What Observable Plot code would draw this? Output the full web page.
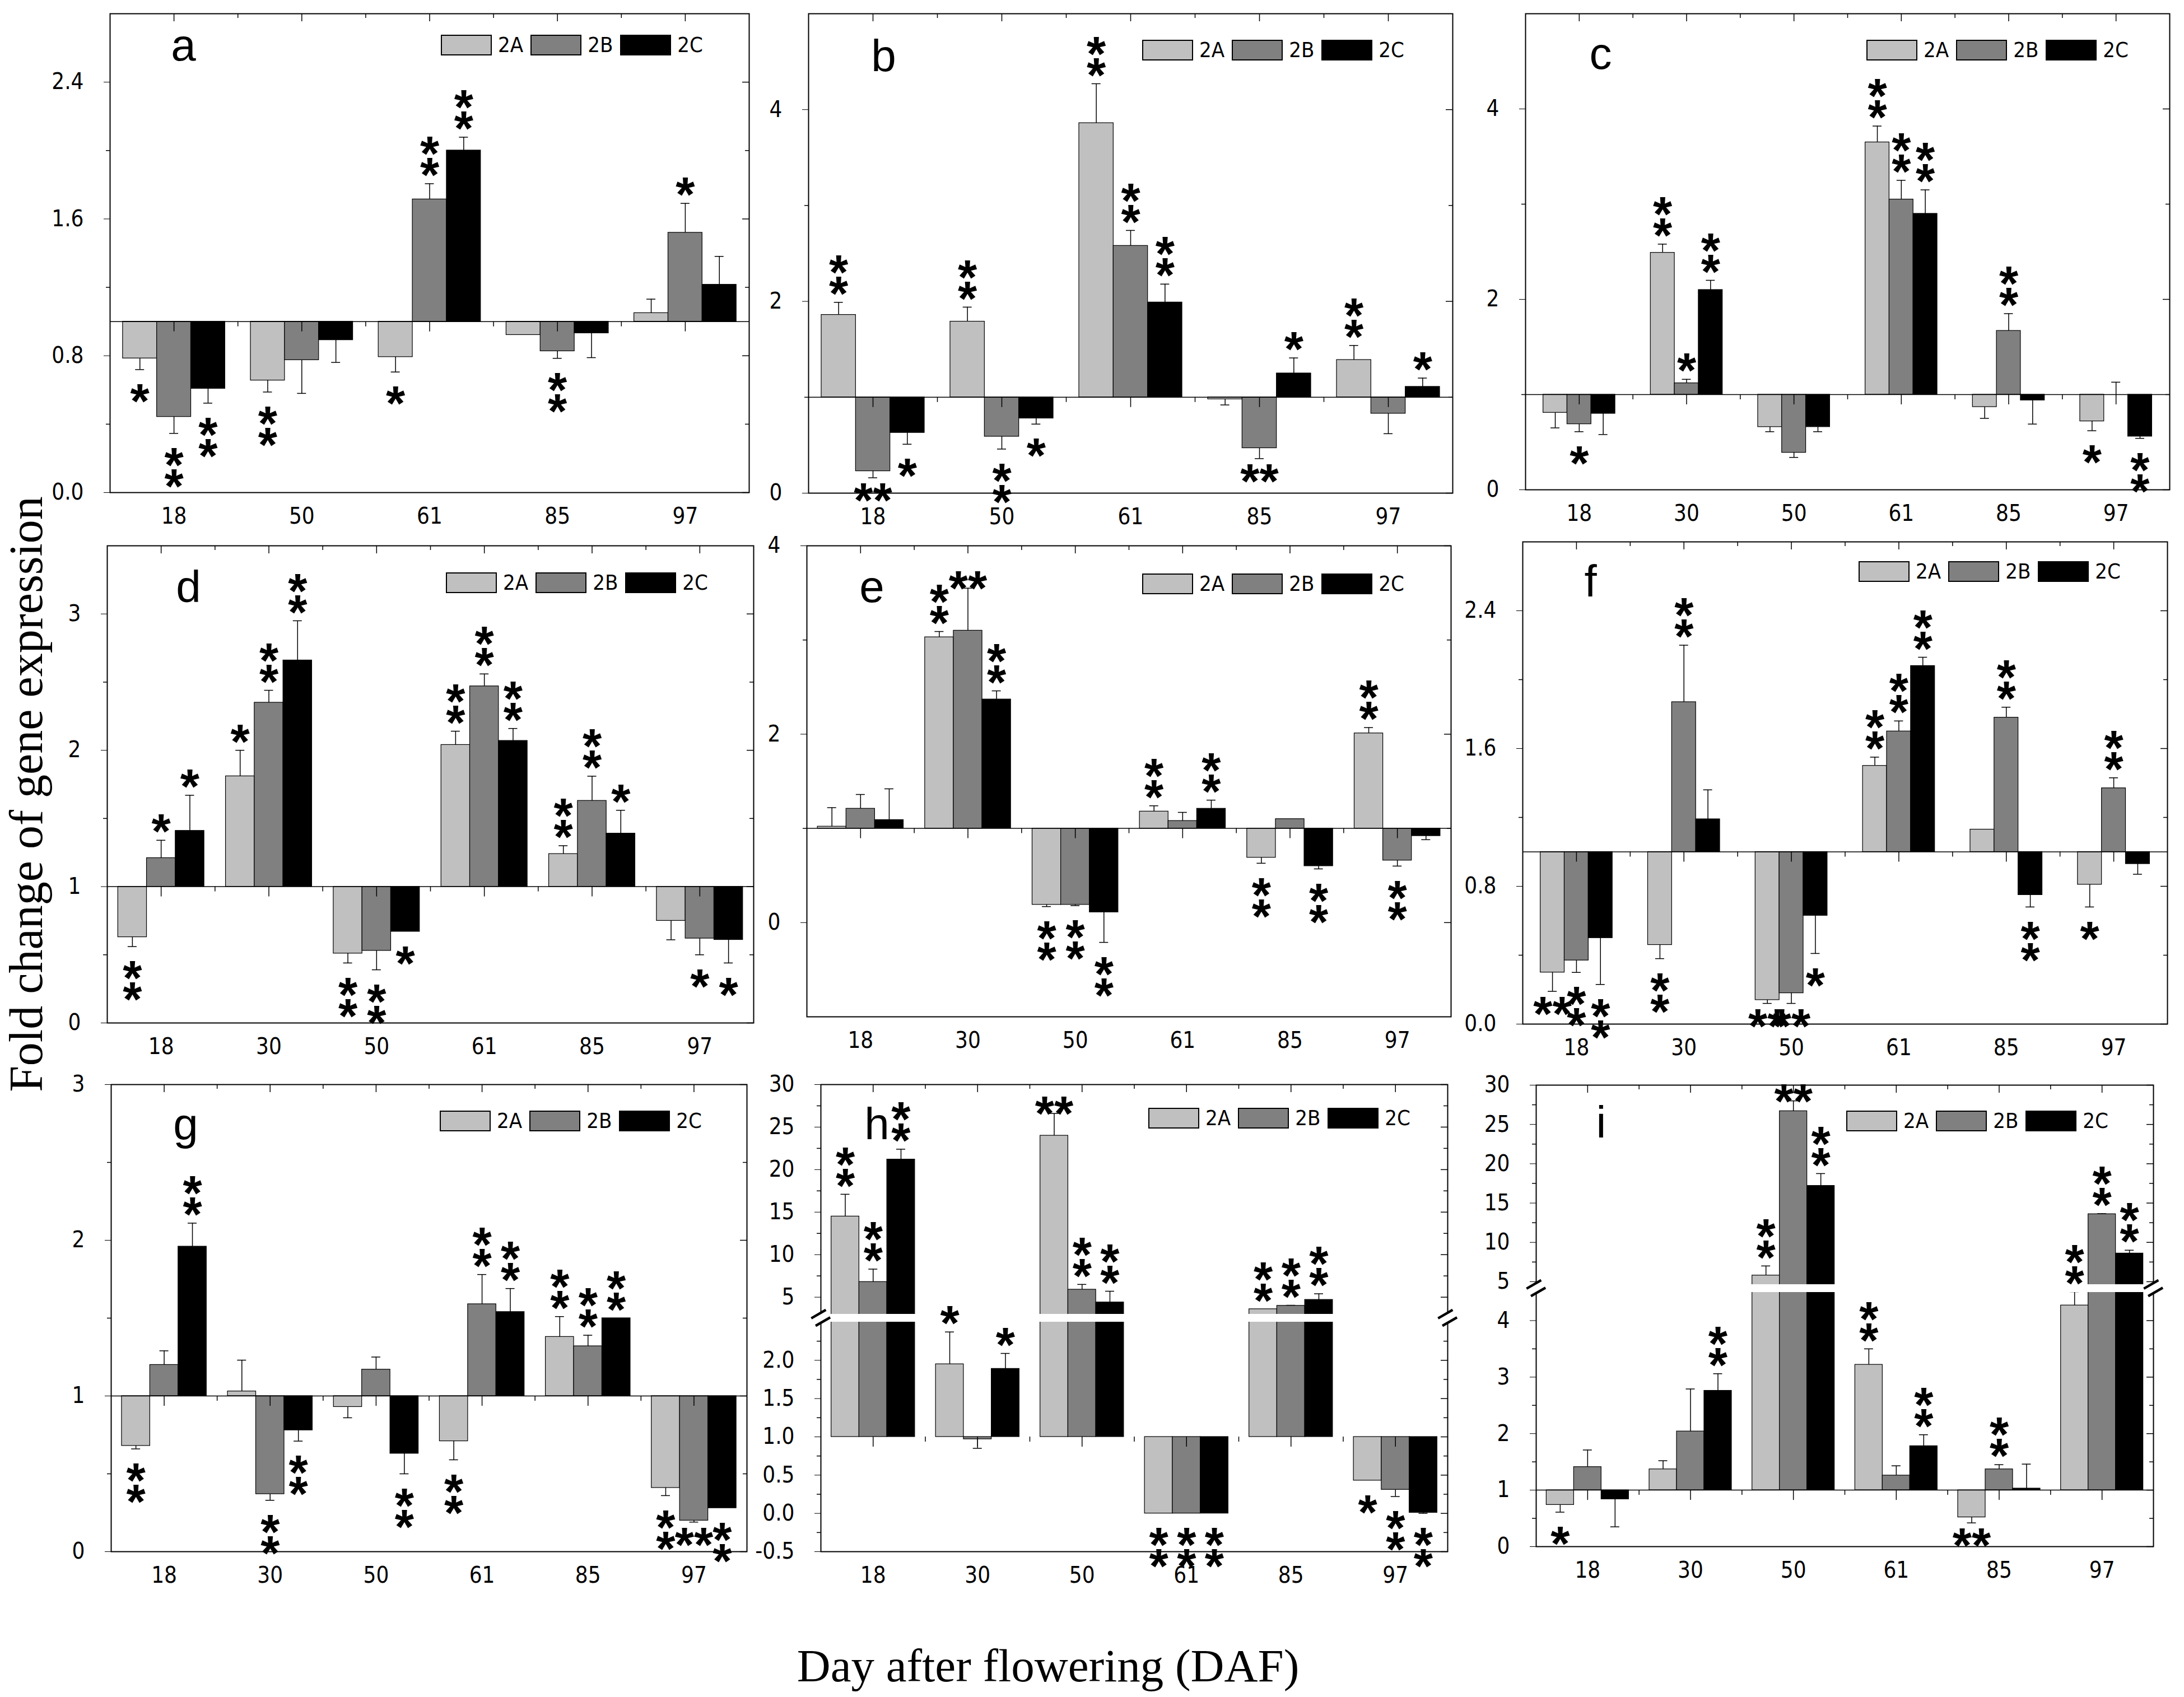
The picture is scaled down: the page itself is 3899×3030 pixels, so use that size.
<!DOCTYPE html>
<html>
<head>
<meta charset="utf-8">
<script src="https://cdn.jsdelivr.net/npm/d3@7"></script>
<script src="https://cdn.jsdelivr.net/npm/@observablehq/plot@0.6"></script>
<style>
  body { margin: 0; background: #fff; }
  #chart { position: relative; width: 3899px; height: 3030px; background: #fff; overflow: hidden; }
  .panel { position: absolute; }
  .panel svg { overflow: visible; background: transparent !important; }
  .lg-swatches { margin: 0 !important; flex-wrap: nowrap !important; min-height: 0 !important; white-space: nowrap; }
  .lg-swatch { margin-right: 14px !important; line-height: 1; }
  .lg-swatch > svg { margin-right: 12px !important; }
  .lg-swatch svg rect { stroke: #000; stroke-width: 2px; }
  .axis-label { position: absolute; font-family: 'Liberation Serif', 'Times New Roman', serif; font-size: 84px; line-height: 1; white-space: nowrap; color: #000; }
</style>
</head>
<body>
<div id="chart"></div>
<script>
// genotypes and their fills
const genotypes = ["2A", "2B", "2C"]
const colors = ["#c0c0c0", "#808080", "#000000"]

// a
const aDays = [18, 50, 61, 85, 97]
const aMean = [[0.785, 0.443, 0.608], [0.656, 0.775, 0.892], [0.793, 1.715, 2.001], [0.922, 0.827, 0.932], [1.05, 1.52, 1.216]]
const aErr = [[0.066, 0.097, 0.085], [0.068, 0.195, 0.131], [0.088, 0.091, 0.077], [0, 0.042, 0.143], [0.081, 0.171, 0.165]]
const aSig = [["*", "*\n*", "*\n*"], ["*\n*", "", ""], ["*", "*\n*", "*\n*"], ["", "*\n*", ""], ["", "*", ""]]
const aTicks = [0, 0.8, 1.6, 2.4]
const aMinor = [0.4, 1.2, 2.0]

// b
const bDays = [18, 50, 61, 85, 97]
const bMean = [[1.86, 0.23, 0.63], [1.79, 0.59, 0.78], [3.86, 2.58, 1.99], [0.98, 0.47, 1.25], [1.39, 0.83, 1.11]]
const bErr = [[0.13, 0.07, 0.12], [0.15, 0.13, 0.06], [0.41, 0.16, 0.19], [0.06, 0.11, 0.16], [0.15, 0.21, 0.09]]
const bSig = [["*\n*", "**", "*"], ["*\n*", "*\n*", "*"], ["*\n*", "*\n*", "*\n*"], ["", "**", "*"], ["*\n*", "", "*"]]
const bTicks = [0, 2, 4]
const bMinor = [1, 3]

// c
const cDays = [18, 30, 50, 61, 85, 97]
const cMean = [[0.81, 0.69, 0.80], [2.49, 1.12, 2.10], [0.66, 0.39, 0.66], [3.65, 3.05, 2.90], [0.87, 1.67, 0.94], [0.72, 1.0, 0.56]]
const cErr = [[0.16, 0.08, 0.22], [0.09, 0.04, 0.10], [0.05, 0.05, 0.05], [0.17, 0.20, 0.25], [0.12, 0.18, 0.25], [0.10, 0.13, 0.02]]
const cSig = [["", "*", ""], ["*\n*", "*", "*\n*"], ["", "", ""], ["*\n*", "*\n*", "*\n*"], ["", "*\n*", ""], ["*", "", "*\n*"]]
const cTicks = [0, 2, 4]
const cMinor = [1, 3]

// d
const dDays = [18, 30, 50, 61, 85, 97]
const dMean = [[0.63, 1.21, 1.41], [1.81, 2.35, 2.66], [0.51, 0.53, 0.67], [2.04, 2.47, 2.07], [1.24, 1.63, 1.39], [0.75, 0.62, 0.61]]
const dErr = [[0.07, 0.13, 0.26], [0.19, 0.09, 0.29], [0.07, 0.14, 0], [0.10, 0.09, 0.09], [0.06, 0.18, 0.17], [0.14, 0.12, 0.17]]
const dSig = [["*\n*", "*", "*"], ["*", "*\n*", "*\n*"], ["*\n*", "*\n*", "*"], ["*\n*", "*\n*", "*\n*"], ["*\n*", "*\n*", "*"], ["", "*", "*"]]
const dTicks = [0, 1, 2, 3]
const dMinor = [0.5, 1.5, 2.5]

// e
const eDays = [18, 30, 50, 61, 85, 97]
const eMean = [[1.02, 1.21, 1.09], [3.03, 3.10, 2.37], [0.19, 0.19, 0.11], [1.18, 1.08, 1.21], [0.69, 1.10, 0.60], [2.01, 0.66, 0.92]]
const eErr = [[0.20, 0.15, 0.33], [0.06, 0.45, 0.09], [0.02, 0.01, 0.32], [0.06, 0.09, 0.09], [0.06, 0, 0.03], [0.06, 0.06, 0.04]]
const eSig = [["", "", ""], ["*\n*", "**", "*\n*"], ["*\n*", "*\n*", "*\n*"], ["*\n*", "", "*\n*"], ["*\n*", "", "*\n*"], ["*\n*", "*\n*", ""]]
const eTicks = [0, 2, 4]
const eMinor = [1, 3]

// f
const fDays = [18, 30, 50, 61, 85, 97]
const fMean = [[0.30, 0.37, 0.50], [0.46, 1.87, 1.19], [0.14, 0.18, 0.63], [1.50, 1.70, 2.08], [1.13, 1.78, 0.75], [0.81, 1.37, 0.93]]
const fErr = [[0.11, 0.07, 0.27], [0.08, 0.33, 0.17], [0.02, 0.06, 0.22], [0.05, 0.06, 0.05], [0, 0.06, 0.07], [0.13, 0.06, 0.06]]
const fSig = [["**", "*\n*", "*\n*"], ["*\n*", "*\n*", ""], ["**", "**", "*"], ["*\n*", "*\n*", "*\n*"], ["", "*\n*", "*\n*"], ["*", "*\n*", ""]]
const fTicks = [0, 0.8, 1.6, 2.4]
const fMinor = [0.4, 1.2, 2.0]

// g
const gDays = [18, 30, 50, 61, 85, 97]
const gMean = [[0.68, 1.20, 1.96], [1.03, 0.37, 0.78], [0.93, 1.17, 0.63], [0.71, 1.59, 1.54], [1.38, 1.32, 1.50], [0.41, 0.20, 0.28]]
const gErr = [[0.02, 0.09, 0.15], [0.20, 0.04, 0.07], [0.07, 0.08, 0.13], [0.12, 0.19, 0.15], [0.13, 0.07, 0], [0.05, 0.01, 0]]
const gSig = [["*\n*", "", "*\n*"], ["", "*\n*", "*\n*"], ["", "", "*\n*"], ["*\n*", "*\n*", "*\n*"], ["*\n*", "*\n*", "*\n*"], ["*\n*", "**", "*\n*"]]
const gTicks = [0, 1, 2, 3]
const gMinor = [0.5, 1.5, 2.5]

// h (broken axis)
const hDays = [18, 30, 50, 61, 85, 97]
const hMean = [[14.5, 6.8, 21.2], [1.95, 0.97, 1.89], [24.0, 5.9, 4.4], [0, 0, 0], [3.6, 4.0, 4.7], [0.43, 0.31, 0.01]]
const hErr = [[2.6, 1.5, 1.2], [0.42, 0.12, 0.2], [2.6, 0.6, 1.3], [0, 0, 0], [0, 0.05, 0.7], [0, 0.09, 0.01]]
const hSig = [["*\n*", "*\n*", "*\n*"], ["*", "", "*"], ["**", "*\n*", "*\n*"], ["*\n*", "*\n*", "*\n*"], ["*\n*", "*\n*", "*\n*"], ["*", "*\n*", "*\n*"]]
const hTicks = [-0.5, 0, 0.5, 1, 1.5, 2, 5, 10, 15, 20, 25, 30]
const hMinor = [-0.25, 0.25, 0.75, 1.25, 1.75, 2.25, 7.5, 12.5, 17.5, 22.5, 27.5]

// i (broken axis)
const iDays = [18, 30, 50, 61, 85, 97]
const iMean = [[0.74, 1.41, 0.84], [1.37, 2.04, 2.76], [5.8, 26.7, 17.2], [3.22, 1.26, 1.78], [0.52, 1.37, 1.03], [4.27, 13.6, 8.6]]
const iErr = [[0.13, 0.30, 0.49], [0.15, 0.75, 0.30], [1.2, 1.3, 1.55], [0.28, 0.17, 0.20], [0.10, 0.08, 0.43], [0.24, 0.05, 0.40]]
const iSig = [["*", "", ""], ["", "", "*\n*"], ["*\n*", "**", "*\n*"], ["*\n*", "", "*\n*"], ["**", "*\n*", ""], ["*\n*", "*\n*", "*\n*"]]
const iTicks = [0, 1, 2, 3, 4, 5, 10, 15, 20, 25, 30]
const iMinor = [0.5, 1.5, 2.5, 3.5, 7.5, 12.5, 17.5, 22.5, 27.5]

const NARROW = "'Liberation Sans Narrow', 'Arial Narrow', 'DejaVu Sans Condensed', 'Liberation Sans', sans-serif"
const ML = 200, MR = 40, MT = 40, MB = 110
const STAR = {fs: 88, ls: 38, off: 36, offRow: 20, g: 0.57}

const fmt1 = v => v.toFixed(1)
const fmt0 = v => String(v)

// frame = [left, top, width, height] in page pixels; legend = [right gap, top gap]; letter = [dx, dy]
// seg = pixel heights of the lower part, the gap and the upper part of a broken axis
const panels = [
  {id: "a", days: aDays, mean: aMean, err: aErr, sig: aSig, major: aTicks, minor: aMinor, y: [0, 2.8], fmt: fmt1,
    frame: [196, 24, 1141, 855], group: 0.8, legend: [82, 37], letter: [131, 83], baseline: true},
  {id: "b", days: bDays, mean: bMean, err: bErr, sig: bSig, major: bTicks, minor: bMinor, y: [0, 5], fmt: fmt0,
    frame: [1443, 24, 1150, 856], group: 0.8, legend: [86, 46], letter: [134, 102], baseline: true},
  {id: "c", days: cDays, mean: cMean, err: cErr, sig: cSig, major: cTicks, minor: cMinor, y: [0, 5], fmt: fmt0,
    frame: [2723, 24, 1150, 850], group: 0.67, legend: [73, 46], letter: [134, 98], baseline: true},
  {id: "d", days: dDays, mean: dMean, err: dErr, sig: dSig, major: dTicks, minor: dMinor, y: [0, 3.5], fmt: fmt0,
    frame: [191, 974, 1154, 852], group: 0.8, legend: [81, 47], letter: [145, 100], baseline: true},
  {id: "e", days: eDays, mean: eMean, err: eErr, sig: eSig, major: eTicks, minor: eMinor, y: [-1, 4], fmt: fmt0,
    frame: [1440, 974, 1150, 841], group: 0.8, legend: [83, 49], letter: [116, 100], baseline: true},
  {id: "f", days: fDays, mean: fMean, err: fErr, sig: fSig, major: fTicks, minor: fMinor, y: [0, 2.8], fmt: fmt1,
    frame: [2718, 967, 1151, 861], group: 0.67, legend: [83, 34], letter: [121, 97], baseline: true},
  {id: "g", days: gDays, mean: gMean, err: gErr, sig: gSig, major: gTicks, minor: gMinor, y: [0, 3], fmt: fmt0,
    frame: [198, 1936, 1135, 834], group: 0.8, legend: [80, 46], letter: [133, 97], baseline: true},
  {id: "h", days: hDays, mean: hMean, err: hErr, sig: hSig, major: hTicks, minor: hMinor, y: [-0.5, 30],
    brk: [2.5, 3.0], seg: [410, 14, 410], fmt: v => v >= 5 ? String(v) : v.toFixed(1),
    frame: [1465, 1936, 1119, 834], group: 0.8, legend: [66, 41], letter: [100, 97], baseline: false},
  {id: "i", days: iDays, mean: iMean, err: iErr, sig: iSig, major: iTicks, minor: iMinor, y: [0, 30],
    brk: [4.5, 4.64], seg: [454, 14, 356], fmt: fmt0,
    frame: [2742, 1937, 1102, 824], group: 0.8, legend: [80, 45], letter: [116, 93], baseline: true}
]

// broken axis: values above the break are squeezed onto the lower part's units
function axisMap(p) {
  if (!p.brk) return {to: v => v, from: u => u}
  const [lo, hi] = p.brk
  const [ymin, ymax] = p.y
  const [pl, pg, pu] = p.seg
  const kL = pl / (lo - ymin), kU = pu / (ymax - hi)
  const gapU = pg / kL
  const to = v => v <= lo ? v : v < hi ? lo + (v - lo) / (hi - lo) * gapU : lo + gapU + (v - hi) * kU / kL
  const from = u => u <= lo ? u : u < lo + gapU ? lo + (u - lo) / gapU * (hi - lo) : hi + (u - lo - gapU) * kL / kU
  return {to, from}
}

function starMarks(rows) {
  const lh = STAR.ls / STAR.fs
  const base = (STAR.g - 0.32 * lh) * STAR.fs
  const out = []
  const kinds = [
    {n: 1, row: false, test: s => s === "*"},
    {n: 1, row: true, test: s => s === "**"},
    {n: 2, row: false, test: s => s.includes("\n")}
  ]
  for (const up of [true, false]) {
    for (const kd of kinds) {
      const sel = rows.filter(d => d.sig && d.up === up && kd.test(d.sig))
      const shift = (kd.row ? STAR.offRow : STAR.off) + (kd.n - 1) * STAR.ls / 2
      out.push(Plot.text(sel, {
        x: "xc", y: "endY", text: "sig",
        dy: (up ? -shift : shift) + base,
        lineHeight: lh, fontSize: STAR.fs, fontWeight: "bold",
        fontFamily: "'Liberation Sans', Arial, sans-serif", fill: "black"
      }))
    }
  }
  return out
}

function makePanel(p) {
  const n = p.days.length
  const g = p.group
  const m = axisMap(p)
  const rows = []
  p.days.forEach((day, i) => {
    genotypes.forEach((gt, k) => {
      const v = p.mean[i][k], e = p.err[i][k]
      const up = v >= 1
      const x1 = i + (1 - g) / 2 + k * g / 3
      const end = up ? v + e : v - e
      rows.push({day, gt, k, v, e, up, x1, x2: x1 + g / 3, xc: x1 + g / 6, vY: m.to(v), endY: m.to(end), sig: p.sig[i][k]})
    })
  })
  const withErr = rows.filter(d => d.e > 0)
  const centers = d3.range(n).map(i => i + 0.5)
  const bounds = d3.range(1, n)
  const ytop = m.to(p.y[1])
  const major = p.major.map(m.to)
  const minor = p.minor.map(m.to)
  const one = m.to(1)

  const marks = [
    Plot.frame({stroke: "black", strokeWidth: 2}),
    // inner ticks on the top and right edges
    Plot.ruleX(centers, {x: d => d, y1: ytop, y2: ytop, insetBottom: -14, strokeWidth: 1.5}),
    Plot.ruleX(bounds, {x: d => d, y1: ytop, y2: ytop, insetBottom: -8, strokeWidth: 1.5}),
    Plot.ruleY(major, {y: d => d, x1: n, x2: n, insetLeft: -12, strokeWidth: 1.5}),
    Plot.ruleY(minor, {y: d => d, x1: n, x2: n, insetLeft: -7, strokeWidth: 1.5}),
    Plot.ruleY(minor, {y: d => d, x1: 0, x2: 0, insetLeft: -7, strokeWidth: 1.5}),
    // error bars
    Plot.ruleX(withErr, {x: "xc", y1: "vY", y2: "endY", strokeWidth: 1.5}),
    Plot.ruleY(withErr, {y: "endY", x1: "xc", x2: "xc", insetLeft: -8, insetRight: -8, strokeWidth: 1.5}),
    // bars from the baseline 1
    Plot.rect(rows, {x1: "x1", x2: "x2", y1: one, y2: "vY", fill: d => colors[d.k], stroke: "black", strokeWidth: 1.2})
  ]
  if (p.baseline) marks.push(Plot.ruleY([one], {strokeWidth: 1.5}))
  marks.push(
    Plot.ruleX(centers, {x: d => d, y1: one, y2: one, insetBottom: -18, strokeWidth: 1.5}),
    Plot.ruleX(bounds, {x: d => d, y1: one, y2: one, insetBottom: -9, strokeWidth: 1.5})
  )
  if (p.brk) {
    const b0 = m.to(p.brk[0]), b1 = m.to(p.brk[1])
    marks.push(
      Plot.rect([[b0, b1]], {x1: 0, x2: n, y1: d => d[0], y2: d => d[1], fill: "white", insetLeft: -20, insetRight: -20}),
      Plot.text([0, n], {x: d => d, y: (b0 + b1) / 2, text: () => "=", rotate: -30, fontSize: 62,
        fontFamily: "'Liberation Sans', sans-serif"})
    )
  }
  marks.push(...starMarks(rows))
  marks.push(Plot.text([p.id], {frameAnchor: "top-left", dx: p.letter[0], dy: p.letter[1], text: d => d,
    textAnchor: "middle", lineAnchor: "bottom", fontSize: 80, fontFamily: "'Liberation Sans', Arial, sans-serif"}))

  const [L, T, W, H] = p.frame
  const chart = Plot.plot({
    width: W + ML + MR,
    height: H + MT + MB,
    marginLeft: ML, marginRight: MR, marginTop: MT, marginBottom: MB,
    style: {fontFamily: NARROW, fontSize: "40px", background: "transparent", overflow: "visible", color: "black"},
    x: {domain: [0, n], ticks: centers, tickFormat: v => String(p.days[Math.floor(v)]), tickSize: 0, tickPadding: 27, label: null},
    y: {domain: [p.y[0], ytop], ticks: major, tickFormat: u => p.fmt(Math.round(m.from(u) * 1000) / 1000),
      tickSize: 11, tickPadding: 36, label: null},
    marks
  })

  const wrap = d3.select("#chart").append("div")
    .attr("class", "panel")
    .style("left", (L - ML) + "px")
    .style("top", (T - MT) + "px")
    .style("width", (W + ML + MR) + "px")
    .style("height", (H + MT + MB) + "px")
  wrap.append(() => chart)

  const lg = Plot.legend({
    color: {type: "ordinal", domain: genotypes, range: colors},
    legend: "swatches", swatchWidth: 89, swatchHeight: 35, className: "lg"
  })
  lg.style.position = "absolute"
  lg.style.right = (MR + p.legend[0] - 14) + "px"
  lg.style.top = (MT + p.legend[1]) + "px"
  lg.style.fontSize = "38px"
  lg.style.fontFamily = NARROW
  lg.style.color = "black"
  wrap.append(() => lg)
}

panels.forEach(makePanel)

// shared axis titles
d3.select("#chart").append("div")
  .attr("class", "axis-label")
  .style("left", "1871px").style("top", "2933px")
  .style("transform", "translateX(-50%)")
  .style("font-size", "83px")
  .text("Day after flowering (DAF)")

d3.select("#chart").append("div")
  .attr("class", "axis-label")
  .style("left", "47px").style("top", "1418px")
  .style("transform", "translate(-50%, -50%) rotate(-90deg)")
  .text("Fold change of gene expression")
</script>
</body>
</html>
